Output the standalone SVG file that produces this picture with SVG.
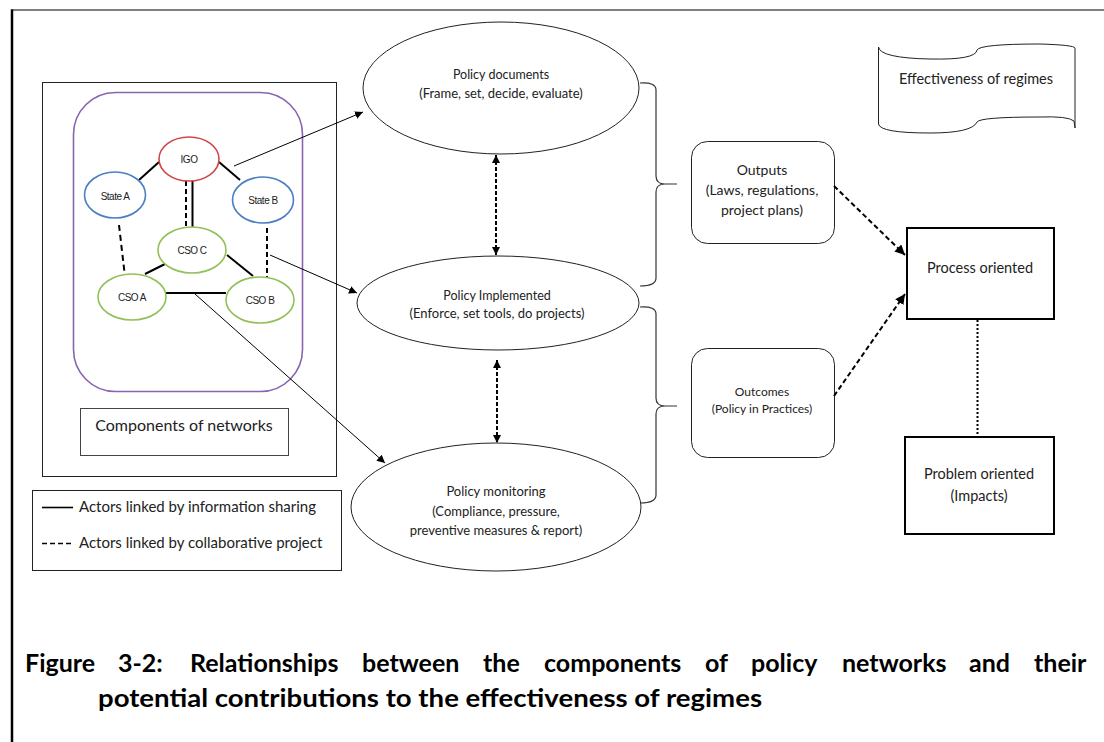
<svg xmlns="http://www.w3.org/2000/svg" width="1104" height="742" viewBox="0 0 1104 742">
<defs>
<style>
text{font-family:Lato,"Open Sans","Liberation Sans",sans-serif;fill:#222;text-anchor:middle}
.sm{font-family:"Liberation Sans",Arial,sans-serif;font-size:10px;letter-spacing:-0.5px}
.t12{font-size:12.5px}
.t13{font-size:13px}
.t14{font-size:14.5px}
.t15{font-size:15px}
.ln{stroke:#000;fill:none}
.node{fill:#fff;stroke:#222;stroke-width:1}
.cap{font-family:Lato,"Liberation Sans",sans-serif;font-weight:bold;font-size:25px;fill:#000;text-anchor:start}
</style>
<marker id="ah" viewBox="0 0 10 10" refX="10" refY="5" markerWidth="8" markerHeight="8" orient="auto-start-reverse" markerUnits="userSpaceOnUse">
<path d="M0,0 L10,5 L0,10 z" fill="#000"/>
</marker>
<marker id="ah2" viewBox="0 0 10 10" refX="10" refY="5" markerWidth="10" markerHeight="10" orient="auto-start-reverse" markerUnits="userSpaceOnUse">
<path d="M0,0 L10,5 L0,10 z" fill="#000"/>
</marker>
</defs>
<rect width="1104" height="742" fill="#fff"/>
<g id="frame">
<line x1="11" y1="10" x2="1104" y2="10" stroke="#000" stroke-width="1.2"/>
<line x1="12" y1="9.5" x2="12" y2="742" stroke="#000" stroke-width="2.5"/>
</g>
<g id="network-panel">
<rect x="42.5" y="82.5" width="294" height="394" fill="none" stroke="#222" stroke-width="1"/>
<rect x="73.5" y="92.5" width="229" height="299" rx="42" fill="none" stroke="#8a64b0" stroke-width="1.6"/>
</g>
<g id="network-links">
<line class="ln" x1="159" y1="162" x2="139" y2="180" stroke-width="2"/>
<line class="ln" x1="219" y1="162" x2="240" y2="180" stroke-width="2"/>
<line class="ln" x1="186" y1="181" x2="186" y2="228" stroke-width="2" stroke-dasharray="5,3"/>
<line class="ln" x1="192.5" y1="181" x2="192.5" y2="228" stroke-width="2"/>
<line class="ln" x1="119" y1="225" x2="125" y2="277" stroke-width="2" stroke-dasharray="6,4"/>
<line class="ln" x1="267" y1="228" x2="267" y2="277" stroke-width="2" stroke-dasharray="5,3"/>
<line class="ln" x1="165" y1="264" x2="145" y2="274" stroke-width="2"/>
<line class="ln" x1="227" y1="255" x2="253" y2="276" stroke-width="2"/>
<line class="ln" x1="166" y1="293" x2="226" y2="293" stroke-width="2"/>
</g>
<g id="n-igo"><ellipse cx="189" cy="159" rx="30" ry="22" fill="#fff" stroke="#d0474a" stroke-width="1.6"/><text class="sm" x="189" y="163">IGO</text></g>
<g id="n-statea"><ellipse cx="115" cy="195" rx="30.5" ry="23" fill="#fff" stroke="#4a7fc4" stroke-width="1.6"/><text class="sm" x="115" y="200">State A</text></g>
<g id="n-stateb"><ellipse cx="263" cy="200" rx="30.5" ry="23" fill="#fff" stroke="#4a7fc4" stroke-width="1.6"/><text class="sm" x="263" y="204">State B</text></g>
<g id="n-csoc"><ellipse cx="192" cy="250" rx="34" ry="23" fill="#fff" stroke="#93c05a" stroke-width="1.6"/><text class="sm" x="192" y="254">CSO C</text></g>
<g id="n-csoa"><ellipse cx="132" cy="297" rx="34" ry="23" fill="#fff" stroke="#93c05a" stroke-width="1.6"/><text class="sm" x="132" y="301">CSO A</text></g>
<g id="n-csob"><ellipse cx="260" cy="300" rx="34" ry="23" fill="#fff" stroke="#93c05a" stroke-width="1.6"/><text class="sm" x="260" y="304">CSO B</text></g>
<g id="n-components"><rect x="80.5" y="408.5" width="208" height="47" fill="#fff" stroke="#444" stroke-width="1"/><text x="184" y="431" style="font-size:16px">Components of networks</text></g>
<g id="legend">
<rect x="32.5" y="490.5" width="309" height="80" fill="#fff" stroke="#222" stroke-width="1"/>
<line x1="42" y1="507.5" x2="73" y2="507.5" stroke="#000" stroke-width="1.6"/>
<text class="t15" x="79" y="512" style="text-anchor:start">Actors linked by information sharing</text>
<line x1="42" y1="543.5" x2="73" y2="543.5" stroke="#000" stroke-width="1.6" stroke-dasharray="5,3"/>
<text class="t15" x="79" y="548" style="text-anchor:start">Actors linked by collaborative project</text>
</g>
<g id="n-docs"><ellipse class="node" cx="501" cy="88" rx="138" ry="66"/><text class="t12" x="501" y="79">Policy documents</text><text class="t13" x="501" y="98">(Frame, set, decide, evaluate)</text></g>
<g id="n-impl"><ellipse class="node" cx="498" cy="303" rx="141" ry="47"/><text class="t12" x="497" y="300">Policy Implemented</text><text class="t13" x="497" y="318">(Enforce, set tools, do projects)</text></g>
<g id="n-mon"><ellipse class="node" cx="496" cy="507" rx="145" ry="64"/><text class="t13" x="496" y="496">Policy monitoring</text><text class="t13" x="496" y="516">(Compliance, pressure,</text><text class="t13" x="496" y="535">preventive measures &amp; report)</text></g>
<g id="braces" fill="none" stroke="#333" stroke-width="1.2">
<path d="M640,83 Q656,82 656,90 L656,176 Q656,184 665,184 L677,184 M665,184 Q656,184 656,192 L656,278 Q656,286 640,286"/>
<path d="M640,307 Q656,306 656,314 L656,398 Q656,406 665,406 L677,406 M665,406 Q656,406 656,414 L656,495 Q656,503 640,503"/>
</g>
<g id="n-outputs"><rect class="node" x="691.5" y="141.5" width="143" height="102" rx="16"/><text x="762" y="175" style="font-size:14px">Outputs</text><text x="762" y="195" style="font-size:14px">(Laws, regulations,</text><text x="762" y="215" style="font-size:14px">project plans)</text></g>
<g id="n-outcomes"><rect class="node" x="691.5" y="348.5" width="143" height="109" rx="16"/><text x="762" y="396" style="font-size:12px">Outcomes</text><text x="762" y="413" style="font-size:12px">(Policy in Practices)</text></g>
<g id="n-effect">
<path d="M878.5,47 Q880,58 930,59 Q976,60 977,50 Q980,44 1040,44 Q1074,45 1075,48 L1075,128 L1074,121 Q1068,116 1040,117 Q980,117 977,122 Q972,133 930,133 Q880,133 878.5,124 Z" fill="#fff" stroke="#222" stroke-width="1"/>
<text class="t14" x="976" y="84">Effectiveness of regimes</text>
</g>
<g id="n-process"><rect x="907" y="228" width="147" height="91" fill="#fff" stroke="#000" stroke-width="2"/><text class="t14" x="980" y="273">Process oriented</text></g>
<g id="n-problem"><rect x="905" y="437" width="149" height="97" fill="#fff" stroke="#000" stroke-width="2"/><text class="t14" x="979" y="479">Problem oriented</text><text class="t14" x="979" y="501">(Impacts)</text></g>
<g id="connectors">
<line class="ln" x1="234" y1="166" x2="363" y2="112" stroke-width="1" marker-end="url(#ah)"/>
<line class="ln" x1="270" y1="255" x2="357" y2="293" stroke-width="1" marker-end="url(#ah)"/>
<line class="ln" x1="195" y1="294" x2="385" y2="463" stroke-width="1" marker-end="url(#ah)"/>
<line class="ln" x1="496" y1="155" x2="496" y2="255" stroke-width="2" stroke-dasharray="4,2" marker-start="url(#ah)" marker-end="url(#ah)"/>
<line class="ln" x1="497" y1="360" x2="497" y2="443" stroke-width="2" stroke-dasharray="4,2" marker-start="url(#ah)" marker-end="url(#ah)"/>
<line class="ln" x1="834" y1="186" x2="905" y2="255" stroke-width="2" stroke-dasharray="5,3" marker-end="url(#ah2)"/>
<line class="ln" x1="834" y1="396" x2="905" y2="294" stroke-width="2" stroke-dasharray="5,3" marker-end="url(#ah2)"/>
<line class="ln" x1="977.5" y1="320" x2="977.5" y2="436" stroke-width="2" stroke-dasharray="2,2"/>
</g>
<g id="caption">
<text class="cap" y="672"><tspan x="25">Figure</tspan><tspan x="118">3-2:</tspan><tspan x="190">Relationships</tspan><tspan x="362">between</tspan><tspan x="483">the</tspan><tspan x="544">components</tspan><tspan x="705">of</tspan><tspan x="751">policy</tspan><tspan x="842">networks</tspan><tspan x="969">and</tspan><tspan x="1034">their</tspan></text>
<text class="cap" x="98" y="707" textLength="664" lengthAdjust="spacingAndGlyphs">potential contributions to the effectiveness of regimes</text>
</g>
</svg>
